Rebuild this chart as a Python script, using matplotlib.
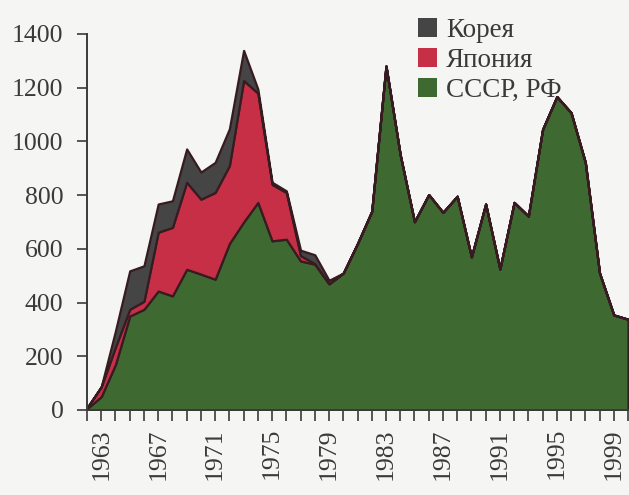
import matplotlib.pyplot as plt
from matplotlib.patches import Patch

plt.rcParams['font.family'] = ['Liberation Serif', 'DejaVu Serif']

years = list(range(1962, 2001))

ussr = [5, 50, 170, 350, 375, 443, 425, 524, 506, 487, 620, 700, 773, 630, 636, 555,
        543, 470, 510, 620, 740, 1281, 950, 701, 802, 736, 796, 570, 767, 525, 773,
        722, 1045, 1167, 1107, 922, 510, 354, 338]
japan = [3, 37, 65, 25, 30, 219, 255, 324, 279, 323, 290, 527, 407, 210, 174, 20,
         2, 0, 0, 0, 0, 0, 0, 0, 0, 0, 0, 0, 0, 0, 0,
         0, 0, 0, 0, 0, 0, 0, 0]
korea = [0, 0, 60, 143, 132, 105, 99, 124, 101, 112, 137, 112, 15, 8, 6, 20,
         33, 13, 0, 0, 0, 0, 0, 0, 0, 0, 0, 0, 0, 0, 0,
         0, 0, 0, 0, 0, 0, 0, 0]

labels = ['СССР, РФ', 'Япония', 'Корея']
colors = ['#3e6a32', '#c72f47', '#454545']
year_labels = list(range(1963, 2000, 4))

bg = '#f5f5f3'
ink = '#3a3a3a'

fig = plt.figure(figsize=(6.29, 4.95), dpi=100, facecolor=bg)
ax = fig.add_axes([87 / 629, 85 / 495, 541 / 629, 376 / 495], facecolor=bg)

ax.stackplot(years, ussr, japan, korea, colors=colors,
             edgecolor='#361c20', linewidth=1.6)

ax.set_xlim(1962, 2000)
ax.set_ylim(0, 1400)
ax.set_yticks(range(0, 1401, 200))
ax.set_xticks(years, minor=True)
ax.set_xticks(year_labels)
ax.set_xticklabels([str(y) for y in year_labels], rotation=90)

for s in ['top', 'right']:
    ax.spines[s].set_visible(False)
for s in ['left', 'bottom']:
    ax.spines[s].set_color(ink)
    ax.spines[s].set_linewidth(1.4)

ax.tick_params(axis='y', length=7, width=1.2, color=ink, labelcolor=ink,
               labelsize=18.5, pad=10)
ax.tick_params(axis='x', which='both', length=8, width=1.2, color=ink,
               direction='out')
ax.tick_params(axis='x', labelcolor=ink, labelsize=18.5, pad=5)

handles = [Patch(facecolor=colors[2]), Patch(facecolor=colors[1]),
           Patch(facecolor=colors[0])]
fig.legend(handles, [labels[2], labels[1], labels[0]], loc='upper left',
           bbox_to_anchor=(404 / 629, 1 - 4 / 495), frameon=False,
           fontsize=19.5, handlelength=0.7, handleheight=0.7, handletextpad=0.35,
           labelspacing=0.2, borderpad=0, labelcolor=ink)

fig.savefig('out.png', dpi=100, facecolor=bg)
